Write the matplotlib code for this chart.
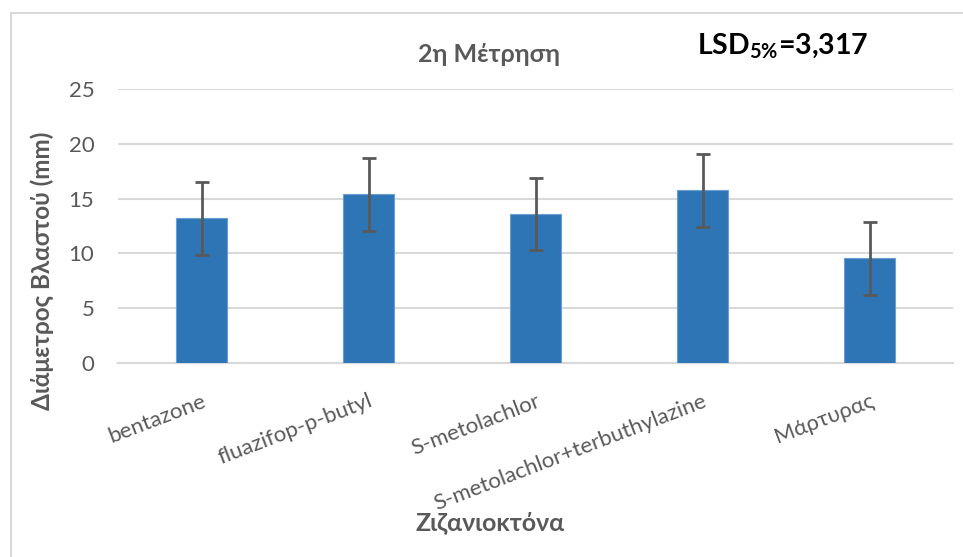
import matplotlib
matplotlib.use("Agg")
import matplotlib.pyplot as plt
from matplotlib.patches import Rectangle

# Data
herbicides = ["bentazone", "fluazifop-p-butyl", "S-metolachlor",
              "S-metolachlor+terbuthylazine", "Μάρτυρας"]
diameter_mm = [13.2, 15.4, 13.6, 15.75, 9.55]
lsd_5 = 3.317
yticks = [0, 5, 10, 15, 20, 25]

plt.rcParams["font.family"] = ["Lato", "Noto Sans", "DejaVu Sans"]
plt.rcParams["mathtext.fontset"] = "custom"
plt.rcParams["mathtext.rm"] = "Lato"
plt.rcParams["mathtext.bf"] = "Lato:bold"

W, H = 963, 557
fig = plt.figure(figsize=(W / 100, H / 100), dpi=100)
fig.patch.set_facecolor("white")

# Chart frame (top and left edges visible)
fig.add_artist(Rectangle((11 / W, -0.1), 2.0, 1.1 - 13 / H,
                         transform=fig.transFigure, fill=False,
                         edgecolor="#d9d9d9", linewidth=1.5))

ax = fig.add_axes([118 / W, 1 - 363 / H, (953 - 118) / W, (363 - 89) / H])

grey = "#595959"
x = range(len(herbicides))
ax.bar(x, diameter_mm, width=0.31, color="#2e75b6", edgecolor="#6b9fd3",
       linewidth=0.8, zorder=3)
ax.errorbar(x, diameter_mm, yerr=lsd_5, fmt="none", ecolor=grey,
            elinewidth=2, capsize=5, capthick=2, zorder=4)

ax.set_xlim(-0.5, len(herbicides) - 0.5)
ax.set_ylim(0, 25)
ax.set_yticks(yticks)
ax.yaxis.grid(True, color="#d9d9d9", linewidth=1.5, zorder=0)
ax.set_axisbelow(True)
for s in ["top", "right", "left"]:
    ax.spines[s].set_visible(False)
ax.spines["bottom"].set_color("#d9d9d9")
ax.spines["bottom"].set_linewidth(1.5)
ax.tick_params(axis="both", length=0, colors=grey, labelsize=16)
ax.tick_params(axis="y", pad=17)
ax.set_xticks(list(x))
ax.set_xticklabels(herbicides, rotation=21, ha="right",
                   rotation_mode="anchor")
ax.tick_params(axis="x", pad=20)

fig.text(42 / W, 1 - 271 / H, "Διάμετρος Βλαστού (mm)", rotation=90,
         ha="center", va="center", fontsize=17.5, fontweight="bold", color=grey)
fig.text(490 / W, 1 - 523 / H, "Ζιζανιοκτόνα", ha="center", va="center",
         fontsize=18, fontweight="bold", color=grey)
fig.text(489 / W, 1 - 55 / H, "2η Μέτρηση", ha="center", va="center",
         fontsize=18, fontweight="bold", color=grey)
fig.text(697 / W, 1 - 46 / H, r"LSD$_{\mathbf{5\%}}$=3,317", ha="left",
         va="center", fontsize=20.5, fontweight="bold", color="black")

fig.savefig("out.png", dpi=100, facecolor="white")
